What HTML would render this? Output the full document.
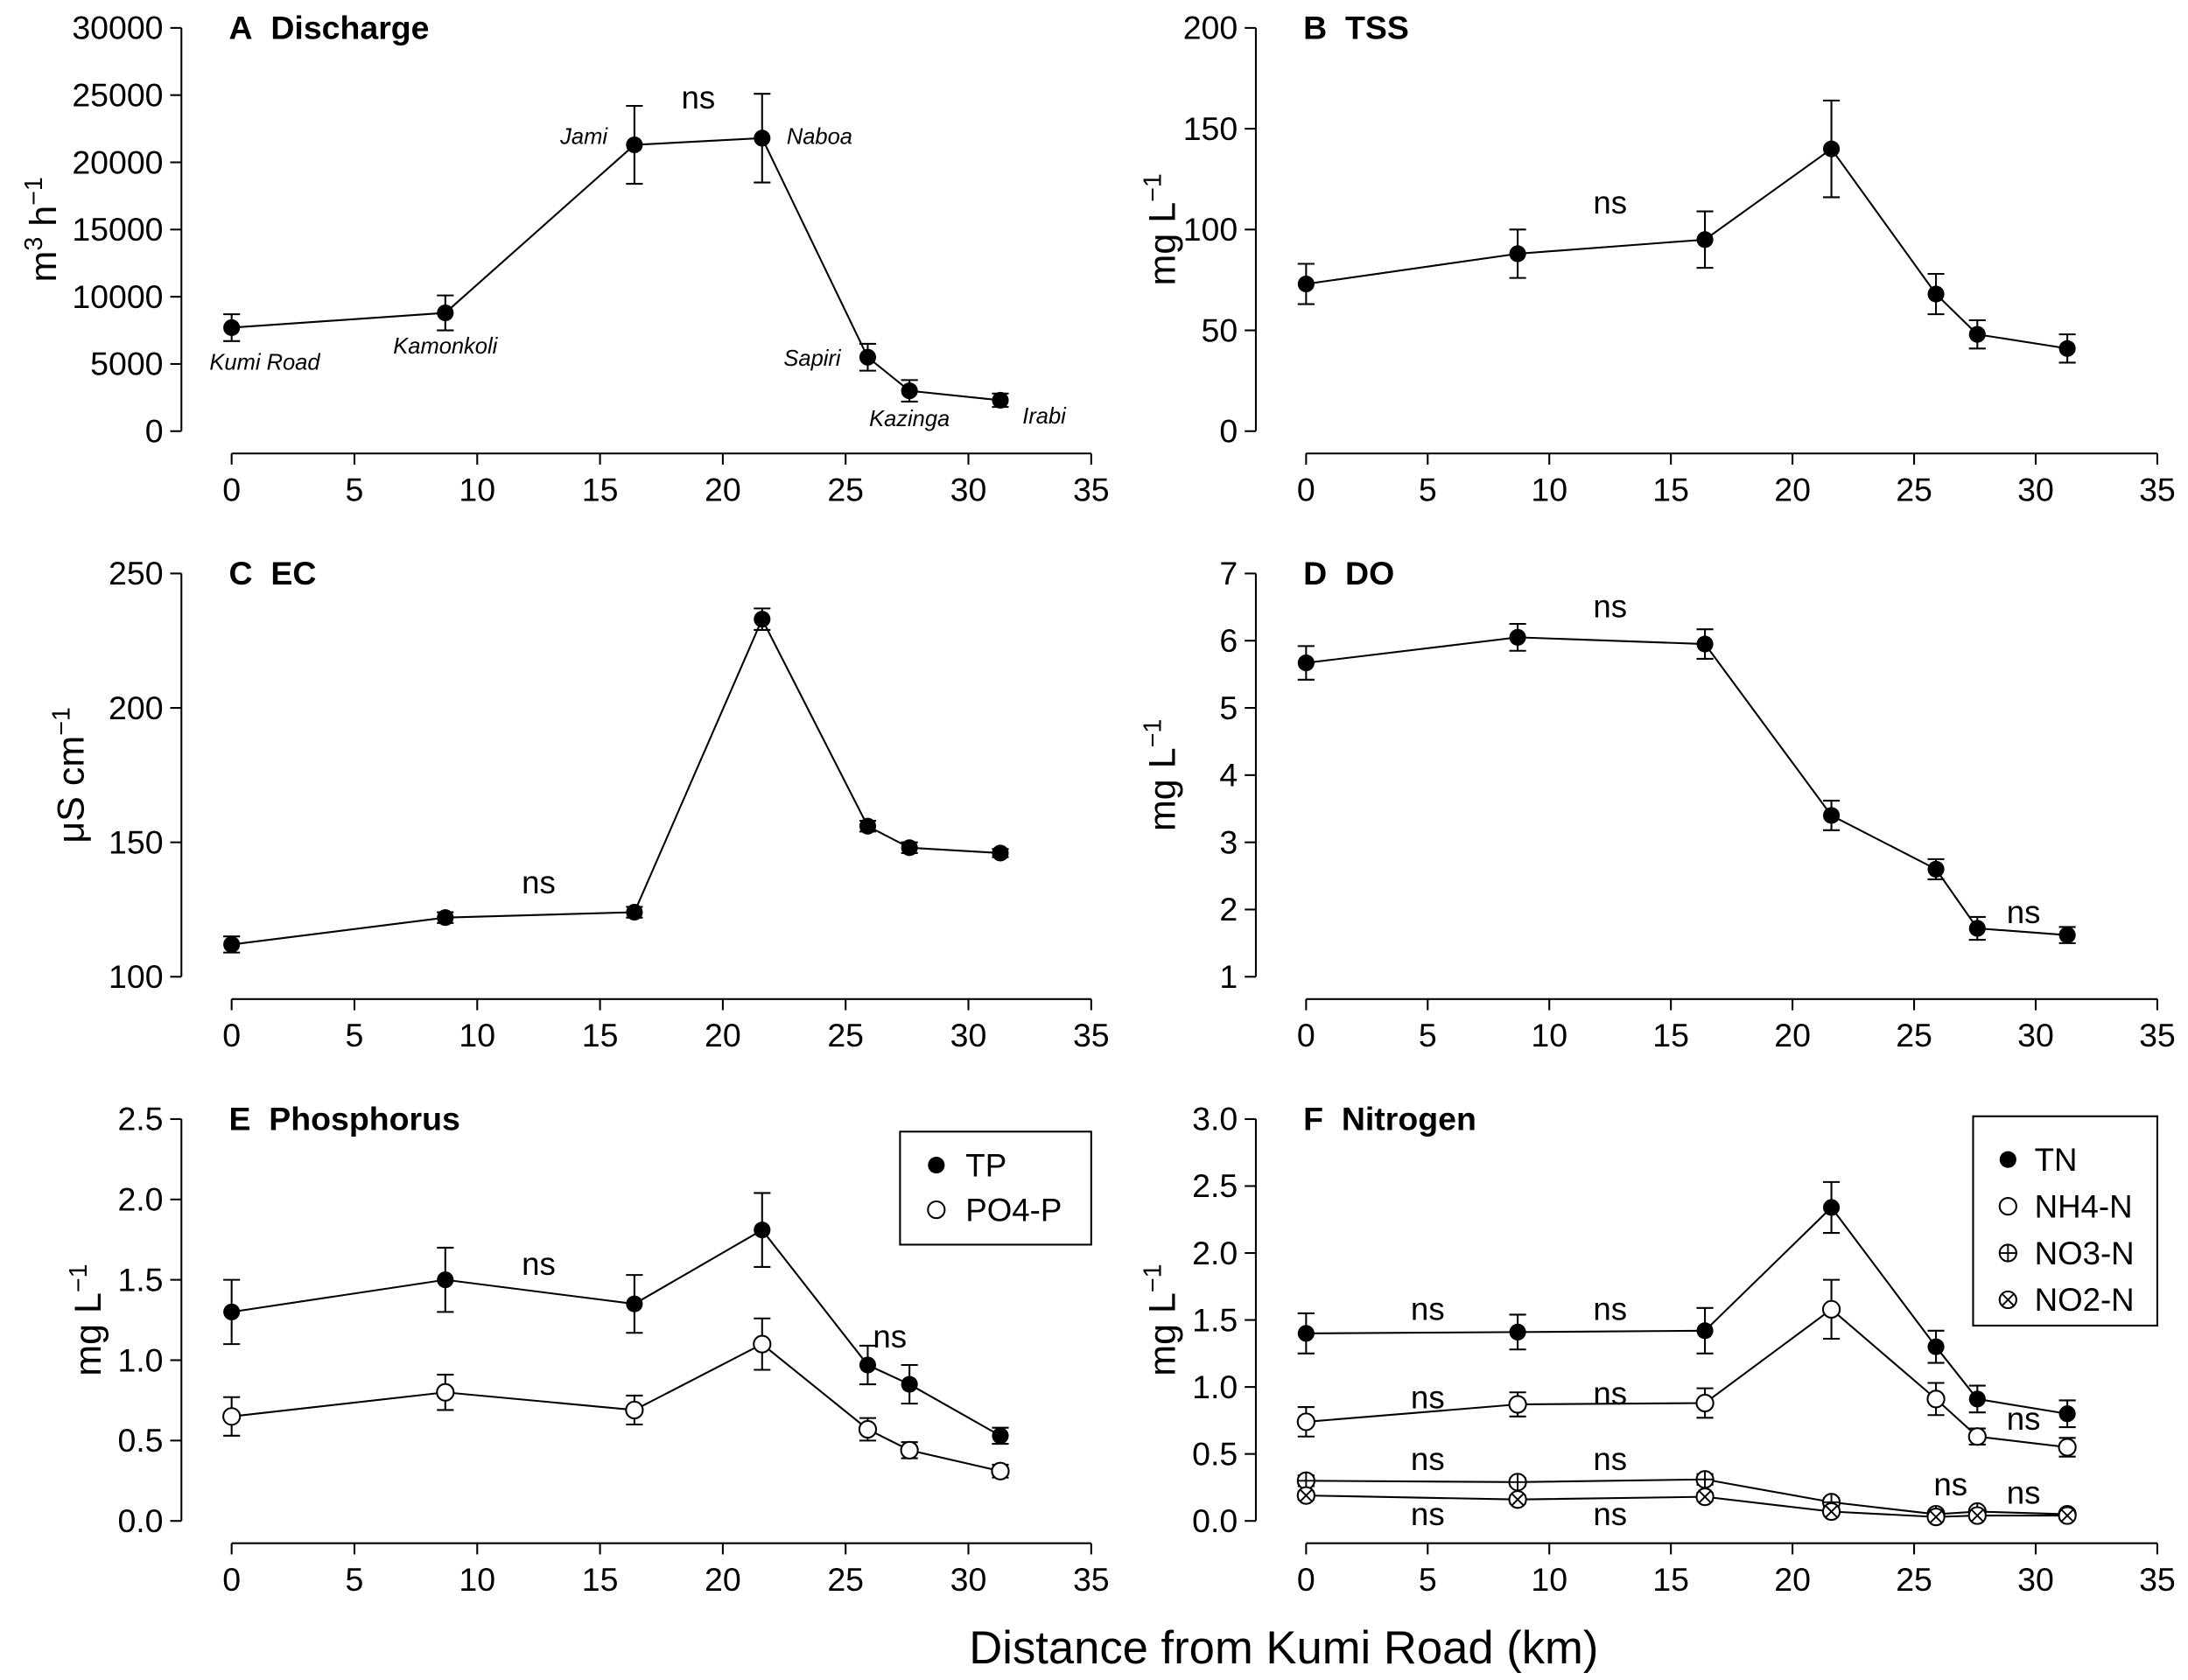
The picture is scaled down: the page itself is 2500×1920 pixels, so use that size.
<!DOCTYPE html>
<html><head><meta charset="utf-8"><style>html,body{margin:0;padding:0;background:#fff}svg{display:block}</style></head>
<body>
<svg id="s" xmlns="http://www.w3.org/2000/svg" width="2500" height="1920" viewBox="0 0 1568 1204" preserveAspectRatio="none" font-family="Liberation Sans, Arial, sans-serif"></svg>
<script>
const S=document.getElementById('s');let h='';
const X=[0,8.7,16.4,21.6,25.9,27.6,31.3];
function panel(o){
 const {x0,x35,ybot,ytop,ymin,ymax,yticks,axY,axX,title,ylab,series,ns,yfmt,lo}=o;
 const fx=v=>x0+(x35-x0)*v/35, fy=v=>ybot-(ybot-ytop)*(v-ymin)/(ymax-ymin);
 h+=`<line x1="${axX}" y1="${fy(yticks[0])}" x2="${axX}" y2="${fy(yticks[yticks.length-1])}" stroke="#000" stroke-width="1.3"/>`;
 yticks.forEach(t=>{const y=fy(t);h+=`<line x1="${axX-8}" y1="${y}" x2="${axX}" y2="${y}" stroke="#000" stroke-width="1.3"/><text x="${axX-13}" y="${y+8}" font-size="23.5" text-anchor="end">${yfmt?yfmt(t):t}</text>`});
 h+=`<line x1="${fx(0)}" y1="${axY}" x2="${fx(35)}" y2="${axY}" stroke="#000" stroke-width="1.3"/>`;
 for(let t=0;t<=35;t+=5){const x=fx(t);h+=`<line x1="${x}" y1="${axY}" x2="${x}" y2="${axY+8}" stroke="#000" stroke-width="1.3"/><text x="${x}" y="${axY+34}" font-size="23.5" text-anchor="middle">${t}</text>`}
 h+=`<text x="${axX+34}" y="${ytop+8}" font-size="23.5" font-weight="bold">${title}</text>`;
 h+=`<g transform="translate(${axX-lo},${(ytop+ybot)/2}) rotate(-90)"><text x="0" y="0" font-size="27" text-anchor="middle">${ylab}</text></g>`;
 series.forEach(s=>{
  let p=X.map((x,i)=>fx(x)+','+fy(s.v[i])).join(' ');
  h+=`<polyline points="${p}" fill="none" stroke="#000" stroke-width="1.3"/>`;
  X.forEach((x,i)=>{const cx=fx(x),cy=fy(s.v[i]),e=s.e[i];
   if(e){const a=fy(s.v[i]+e),b=fy(s.v[i]-e);h+=`<line x1="${cx}" y1="${a}" x2="${cx}" y2="${b}" stroke="#000" stroke-width="1.3"/><line x1="${cx-6}" y1="${a}" x2="${cx+6}" y2="${a}" stroke="#000" stroke-width="1.3"/><line x1="${cx-6}" y1="${b}" x2="${cx+6}" y2="${b}" stroke="#000" stroke-width="1.3"/>`}
   h+=marker(cx,cy,s.m);});
 });
 (ns||[]).forEach(n=>h+=`<text x="${fx(n[0])}" y="${fy(n[1])}" font-size="23" text-anchor="middle">ns</text>`);
 return {fx,fy};
}
function marker(cx,cy,m){
 if(m=='f')return `<circle cx="${cx}" cy="${cy}" r="6" fill="#000"/>`;
 let s=`<circle cx="${cx}" cy="${cy}" r="6" fill="#fff" stroke="#000" stroke-width="1.3"/>`;
 if(m=='p')s+=`<path d="M${cx-6} ${cy}H${cx+6}M${cx} ${cy-6}V${cy+6}" stroke="#000" stroke-width="1.2"/>`;
 if(m=='x')s+=`<path d="M${cx-4.2} ${cy-4.2}L${cx+4.2} ${cy+4.2}M${cx+4.2} ${cy-4.2}L${cx-4.2} ${cy+4.2}" stroke="#000" stroke-width="1.2"/>`;
 return s;
}
const L={x0:166,x35:782,axX:130},R={x0:936,x35:1546,axX:900,lo:58};
const mgL='mg L<tspan dy="-10" font-size="18">−1</tspan>';
const A=panel({...L,lo:90,ybot:309,ytop:20,ymin:0,ymax:30000,yticks:[0,5000,10000,15000,20000,25000,30000],axY:325,title:'A&#160;&#160;Discharge',ylab:'m<tspan dy="-10" font-size="18">3</tspan><tspan dy="10"> h</tspan><tspan dy="-10" font-size="18">−1</tspan>',
 series:[{m:'f',v:[7700,8800,21300,21800,5500,3000,2300],e:[1000,1300,2900,3300,1000,800,500]}],ns:[[19,24000]]});
[['Kumi Road',-0.9,5200,'start'],['Kamonkoli',8.7,6400,'middle'],['Jami',15.3,22000,'end'],['Naboa',22.6,22000,'start'],['Sapiri',24.8,5500,'end'],['Kazinga',27.6,1000,'middle'],['Irabi',32.2,1200,'start']].forEach(l=>{
 h+=`<text x="${A.fx(l[1])}" y="${A.fy(l[2])+6}" font-size="16" font-style="italic" text-anchor="${l[3]}">${l[0]}</text>`});
panel({...R,ybot:309,ytop:20,ymin:0,ymax:200,yticks:[0,50,100,150,200],axY:325,title:'B&#160;&#160;TSS',ylab:mgL,
 series:[{m:'f',v:[73,88,95,140,68,48,41],e:[10,12,14,24,10,7,7]}],ns:[[12.5,108]]});
panel({...L,lo:70,ybot:700,ytop:411,ymin:100,ymax:250,yticks:[100,150,200,250],axY:716,title:'C&#160;&#160;EC',ylab:'μS cm<tspan dy="-10" font-size="18">−1</tspan>',
 series:[{m:'f',v:[112,122,124,233,156,148,146],e:[3,2,2,4,2,2,1.5]}],ns:[[12.5,131]]});
panel({...R,ybot:700,ytop:411,ymin:1,ymax:7,yticks:[1,2,3,4,5,6,7],axY:716,title:'D&#160;&#160;DO',ylab:mgL,
 series:[{m:'f',v:[5.67,6.05,5.95,3.4,2.6,1.72,1.62],e:[0.25,0.2,0.22,0.22,0.15,0.17,0.12]}],ns:[[12.5,6.35],[29.5,1.8]]});
panel({...L,lo:58,ybot:1090,ytop:802,ymin:0,ymax:2.5,yticks:[0,0.5,1,1.5,2,2.5],yfmt:t=>t.toFixed(1),axY:1106,title:'E&#160;&#160;Phosphorus',ylab:mgL,
 series:[{m:'f',v:[1.30,1.50,1.35,1.81,0.97,0.85,0.53],e:[0.2,0.2,0.18,0.23,0.12,0.12,0.05]},{m:'o',v:[0.65,0.80,0.69,1.10,0.57,0.44,0.31],e:[0.12,0.11,0.09,0.16,0.07,0.05,0.04]}],ns:[[12.5,1.53],[26.8,1.08]]});
panel({...R,ybot:1090,ytop:802,ymin:0,ymax:3,yticks:[0,0.5,1,1.5,2,2.5,3],yfmt:t=>t.toFixed(1),axY:1106,title:'F&#160;&#160;Nitrogen',ylab:mgL,
 series:[{m:'f',v:[1.40,1.41,1.42,2.34,1.30,0.91,0.80],e:[0.15,0.13,0.17,0.19,0.12,0.1,0.1]},{m:'o',v:[0.74,0.87,0.88,1.58,0.91,0.63,0.55],e:[0.11,0.09,0.11,0.22,0.12,0.06,0.07]},
 {m:'p',v:[0.30,0.29,0.31,0.14,0.05,0.07,0.05],e:[0.04,0.03,0.04,0.03,0.02,0.02,0.02]},{m:'x',v:[0.19,0.16,0.18,0.07,0.03,0.04,0.04],e:[0.03,0.03,0.03,0.02,0.01,0.01,0.01]}],
 ns:[[5,1.5],[12.5,1.5],[5,0.84],[12.5,0.87],[29.5,0.68],[5,0.38],[12.5,0.38],[26.5,0.19],[29.5,0.13],[5,-0.03],[12.5,-0.03]]});
h+=`<rect x="645" y="811" width="137" height="81" fill="#fff" stroke="#000" stroke-width="1.3"/>`+marker(671,835,'f')+`<text x="692" y="843" font-size="23">TP</text>`+marker(671,867,'o')+`<text x="692" y="875" font-size="23">PO4-P</text>`;
h+=`<rect x="1414" y="800" width="132" height="150" fill="#fff" stroke="#000" stroke-width="1.3"/>`;
[['f','TN'],['o','NH4-N'],['p','NO3-N'],['x','NO2-N']].forEach((l,i)=>{const y=831+i*33.5;h+=marker(1439,y,l[0])+`<text x="1458" y="${y+8}" font-size="23">${l[1]}</text>`});
h+=`<text x="920" y="1192" font-size="33" text-anchor="middle">Distance from Kumi Road (km)</text>`;
S.innerHTML=h;
</script>
</body></html>
